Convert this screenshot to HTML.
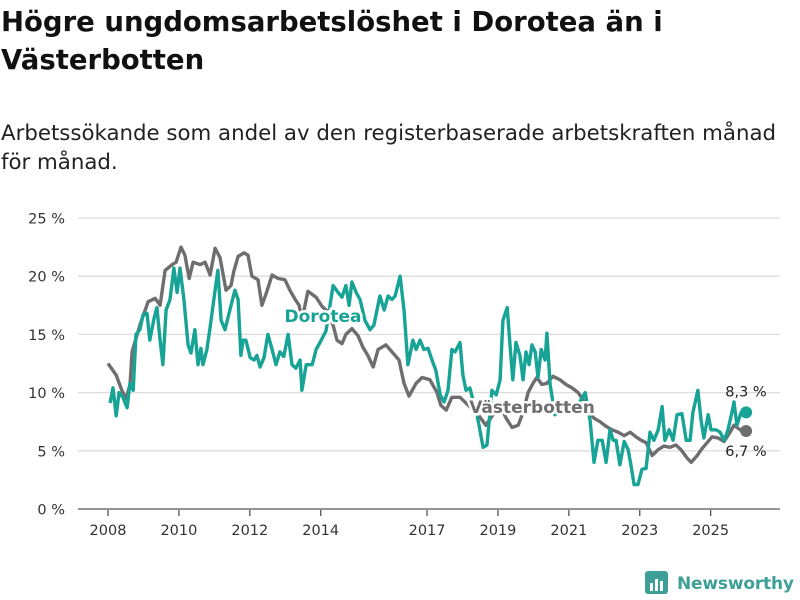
<!DOCTYPE html>
<html><head><meta charset="utf-8"><style>
body{margin:0;background:#fff;font-family:"DejaVu Sans","Liberation Sans",sans-serif;}
#wrap{position:relative;width:800px;height:600px;overflow:hidden}
h1{position:absolute;left:1px;top:3px;margin:0;font-size:27.5px;line-height:38px;font-weight:bold;color:#111;white-space:nowrap}
.sub{position:absolute;left:1px;top:119px;margin:0;font-size:21.3px;line-height:29px;color:#222;white-space:nowrap}
</style></head><body>
<div id="wrap">
<h1>Högre ungdomsarbetslöshet i Dorotea än i<br>Västerbotten</h1>
<p class="sub">Arbetssökande som andel av den registerbaserade arbetskraften månad<br>för månad.</p>
<svg id="chart" width="800" height="600" style="position:absolute;left:0;top:0"></svg>
</div>
<script>
const yTicks=[0,5,10,15,20,25];
const xTicks=[2008,2010,2012,2014,2017,2019,2021,2023,2025];
const vbDates=[2008.00,2008.23,2008.39,2008.51,2008.62,2008.68,2008.90,2009.13,2009.33,2009.47,2009.61,2009.81,2009.92,2010.06,2010.17,2010.29,2010.40,2010.60,2010.74,2010.88,2011.02,2011.16,2011.33,2011.47,2011.55,2011.67,2011.84,2011.95,2012.06,2012.23,2012.34,2012.46,2012.63,2012.80,2012.99,2013.13,2013.28,2013.39,2013.47,2013.64,2013.87,2014.04,2014.15,2014.35,2014.46,2014.60,2014.71,2014.88,2015.05,2015.19,2015.33,2015.48,2015.62,2015.84,2016.01,2016.21,2016.35,2016.49,2016.69,2016.86,2017.08,2017.28,2017.39,2017.54,2017.70,2017.93,2018.44,2018.66,2018.86,2019.06,2019.23,2019.40,2019.57,2019.71,2019.85,2019.99,2020.10,2020.24,2020.38,2020.55,2020.75,2020.92,2021.09,2021.26,2021.40,2021.54,2021.71,2021.88,2022.05,2022.22,2022.39,2022.56,2022.73,2022.89,2023.04,2023.18,2023.35,2023.52,2023.68,2023.85,2024.02,2024.16,2024.33,2024.45,2024.62,2024.76,2024.90,2025.04,2025.21,2025.38,2025.55,2025.66,2025.83,2026.00];
const vbValues=[12.5,11.5,10.2,9.5,10.7,13.5,15.8,17.8,18.1,17.5,20.5,21,21.2,22.5,21.8,19.8,21.2,21,21.2,20.1,22.4,21.6,18.8,19.2,20.4,21.7,22,21.8,20,19.7,17.5,18.5,20.1,19.8,19.7,18.8,18,17.5,16.2,18.7,18.2,17.4,17.1,15.8,14.5,14.2,15,15.5,14.9,13.9,13.2,12.2,13.7,14.1,13.5,12.8,10.8,9.7,10.8,11.3,11.1,10,8.9,8.5,9.6,9.6,8.1,7.2,8.1,8.9,7.8,7,7.2,8.3,10,10.8,11.3,10.7,10.8,11.4,11.1,10.7,10.4,10,9.4,8.5,7.8,7.5,7.1,6.8,6.6,6.3,6.6,6.2,5.9,5.7,4.6,5.1,5.4,5.3,5.5,5.1,4.4,4.0,4.6,5.2,5.7,6.2,6.1,5.8,6.6,7.2,6.8,6.7];
const doDates=[2008.06,2008.14,2008.23,2008.31,2008.42,2008.54,2008.62,2008.71,2008.79,2008.90,2008.99,2009.10,2009.18,2009.30,2009.38,2009.47,2009.55,2009.64,2009.75,2009.86,2009.95,2010.03,2010.14,2010.26,2010.34,2010.45,2010.54,2010.62,2010.68,2010.79,2010.88,2011.02,2011.10,2011.19,2011.30,2011.44,2011.58,2011.67,2011.75,2011.81,2011.89,2012.01,2012.12,2012.20,2012.29,2012.40,2012.51,2012.63,2012.74,2012.85,2012.96,2013.08,2013.19,2013.30,2013.42,2013.47,2013.59,2013.76,2013.87,2013.98,2014.15,2014.35,2014.49,2014.60,2014.71,2014.80,2014.88,2015.00,2015.11,2015.25,2015.39,2015.50,2015.67,2015.79,2015.90,2016.01,2016.10,2016.24,2016.35,2016.46,2016.60,2016.69,2016.80,2016.91,2017.03,2017.14,2017.25,2017.37,2017.48,2017.59,2017.70,2017.79,2017.93,2018.01,2018.10,2018.21,2018.44,2018.58,2018.69,2018.83,2018.95,2019.06,2019.14,2019.26,2019.34,2019.42,2019.51,2019.62,2019.71,2019.79,2019.88,2019.96,2020.05,2020.13,2020.22,2020.33,2020.38,2020.47,2020.61,2020.89,2021.17,2021.46,2021.60,2021.71,2021.82,2021.94,2022.05,2022.16,2022.25,2022.33,2022.44,2022.56,2022.67,2022.75,2022.84,2022.95,2023.06,2023.18,2023.29,2023.40,2023.52,2023.63,2023.71,2023.83,2023.94,2024.05,2024.19,2024.31,2024.42,2024.50,2024.64,2024.73,2024.81,2024.93,2025.01,2025.15,2025.27,2025.38,2025.49,2025.60,2025.66,2025.74,2025.86,2026.00];
const doValues=[9.1,10.4,8,10,9.6,8.7,10.8,10.2,15,15.4,16.7,16.8,14.5,16.4,17.3,14.5,12.4,17.1,18,20.7,18.6,20.7,18,14.1,13.4,15.4,12.4,13.8,12.4,13.7,15.6,18.8,20.5,16.2,15.4,17.1,18.8,18,13.2,14.5,14.5,13,12.8,13.2,12.2,13,15,13.7,12.4,13.5,13.1,15,12.4,12.1,12.8,10.2,12.4,12.4,13.7,14.3,15.3,19.2,18.6,18.2,19.2,17.5,19.5,18.6,18,16.2,15.4,15.8,18.3,17.1,18.3,18,18.3,20,17.1,12.4,14.5,13.7,14.5,13.7,13.8,12.8,11.9,9.8,9.2,10.2,13.7,13.5,14.3,11.5,10.2,10.4,7.6,5.3,5.5,10.2,9.8,11.1,16.2,17.3,14.1,11.1,14.3,13.2,11.1,13.5,12.4,14.1,13.5,11.3,13.7,12.8,15.1,10.7,8.1,9,8.5,10,7.6,4.0,5.9,5.9,4.0,6.8,5.9,5.9,3.8,5.8,5.1,3.8,2.1,2.1,3.4,3.5,6.6,5.9,6.8,8.8,5.9,6.8,5.9,8.1,8.2,5.9,5.9,8.3,10.2,7.6,6.1,8.1,6.8,6.8,6.6,5.9,6.8,8.3,9.2,7.2,8.3,8.3];

const NS='http://www.w3.org/2000/svg';
const svg=document.getElementById('chart');
const X=t=>108+(t-2008)*35.45;
const Y=v=>509-v*11.64;
function mk(tag,attrs,parent){const e=document.createElementNS(NS,tag);for(const k in attrs)e.setAttribute(k,attrs[k]);(parent||svg).appendChild(e);return e;}
yTicks.forEach(v=>{
  const g=mk('line',{x1:78,x2:780,y1:Y(v),y2:Y(v),stroke:v===0?'#555':'#ddd','stroke-width':1.3});
  
  
  const t=mk('text',{x:65,y:Y(v)+5.5,'text-anchor':'end','font-size':14.5,fill:'#333'});
  t.textContent=v+' %';
  
  
});
xTicks.forEach(yr=>{
  const l=mk('line',{x1:X(yr),x2:X(yr),y1:510,y2:516,stroke:'#555','stroke-width':1.3});
  
  
  const t=mk('text',{x:X(yr),y:535,'text-anchor':'middle','font-size':14.5,fill:'#333'});
  t.textContent=yr;
  
  
});
function line(dates,vals,color,name){
  const d=dates.map((t,i)=>(i?'L':'M')+X(t).toFixed(1)+','+Y(vals[i]).toFixed(1)).join('');
  const p=mk('path',{d:d,fill:'none',stroke:color,'stroke-width':3.4,'stroke-linejoin':'round'});
  
  
}
line(vbDates,vbValues,'#6e6d70','vasterbotten-line');
line(doDates,doValues,'#17a395','dorotea-line');
const vl=vbDates.length-1, dl=doDates.length-1;
const c1=mk('circle',{cx:X(vbDates[vl]),cy:Y(vbValues[vl]),r:6,fill:'#6e6d70'});


const c2=mk('circle',{cx:X(doDates[dl]),cy:Y(doValues[dl]),r:6,fill:'#17a395'});


const e1=mk('text',{x:746,y:Y(doValues[dl])-16,'text-anchor':'middle','font-size':14.5,fill:'#222'});
e1.textContent=String(doValues[dl]).replace('.',',')+' %';


const e2=mk('text',{x:746,y:Y(vbValues[vl])+25,'text-anchor':'middle','font-size':14.5,fill:'#222'});
e2.textContent=String(vbValues[vl]).replace('.',',')+' %';


const s1=mk('text',{x:323,y:322,'text-anchor':'middle','font-size':17,'font-weight':'bold',fill:'#17a395',stroke:'#fff','stroke-width':5,'paint-order':'stroke'});
s1.textContent='Dorotea';


const s2=mk('text',{x:532,y:413,'text-anchor':'middle','font-size':17,'font-weight':'bold',fill:'#6e6d70',stroke:'#fff','stroke-width':5,'paint-order':'stroke'});
s2.textContent='Västerbotten';


const lg=mk('g',{});


mk('rect',{x:645,y:571,width:23,height:23,rx:3,fill:'#3d9f95'},lg);
mk('rect',{x:650,y:583,width:3,height:8,fill:'#fff'},lg);
mk('rect',{x:655,y:579,width:3,height:12,fill:'#fff'},lg);
mk('rect',{x:660,y:581,width:3,height:10,fill:'#fff'},lg);
const lt=mk('text',{x:677,y:589,'font-size':17,'font-weight':'bold',fill:'#3d9f95',textLength:117},lg);
lt.textContent='Newsworthy';
</script>
</body></html>
